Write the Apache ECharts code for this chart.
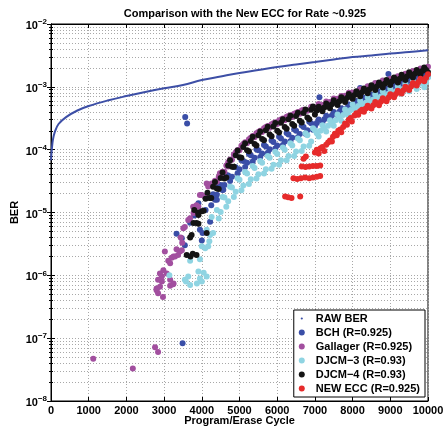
<!DOCTYPE html>
<html>
<head>
<meta charset="utf-8">
<script src="https://cdn.jsdelivr.net/npm/echarts@6/dist/echarts.min.js"></script>
<style>html,body{margin:0;padding:0;background:#fff}#c{width:443px;height:429px}</style>
</head>
<body>
<div id="c"></div>
<script>
// ---------- DATA ----------
const titleText = 'Comparison with the New ECC for Rate ~0.925';
const xName = 'Program/Erase Cycle';
const yName = 'BER';
const seriesNames = ['RAW BER', 'BCH (R=0.925)', 'Gallager (R=0.925)', 'DJCM\u22123 (R=0.93)', 'DJCM\u22124 (R=0.93)', 'NEW ECC (R=0.925)'];

// RAW BER curve
const rawX = [0, 20, 50, 100, 200, 400, 700, 1000, 1500, 2000, 2500, 3000, 3500, 4000, 4500, 5000, 5500, 6000, 6500, 7000, 7500, 8000, 8500, 9000, 9500, 10000];
const rawY = [6.8e-5, 9.9e-5, 1.43e-4, 1.9e-4, 2.56e-4, 3.3e-4, 4.2e-4, 4.95e-4, 6.05e-4, 7.14e-4, 8.3e-4, 9.5e-4, 1.07e-3, 1.28e-3, 1.46e-3, 1.66e-3, 1.85e-3, 2.07e-3, 2.27e-3, 2.48e-3, 2.72e-3, 2.98e-3, 3.15e-3, 3.39e-3, 3.58e-3, 3.81e-3];

// BCH
const bchPoints = [
 [3560,3.3e-4],[3610,2.6e-4],[7120,6.8e-4],[8200,9.6e-4],[8950,1.6e-3],[3490,8.3e-8],
 [3330,4.6e-6],[3470,3.9e-6],[3550,3.0e-6],[3690,6.9e-6],[3910,1.4e-5],[3950,5.3e-6],[4000,3.6e-6],[4020,4.7e-6],[4220,7.1e-6],[4400,1.6e-5],[4570,2.3e-5],[3800,9.0e-6],[4100,1.1e-5],[4250,1.3e-5],
 [4300,1.95e-5],[4400,1.91e-5],[4500,2.75e-5],[4600,2.75e-5],[4700,3.89e-5],[4800,3.72e-5],[4900,5.25e-5],[5000,4.90e-5],
 [5100,6.61e-5],[5200,6.17e-5],[5300,8.13e-5],[5400,7.41e-5],[5500,9.77e-5],[5600,8.71e-5],[5700,1.12e-4],[5800,1.02e-4],
 [5900,1.32e-4],[6000,1.17e-4],[6100,1.51e-4],[6200,1.35e-4],[6300,1.74e-4],[6400,1.55e-4],[6500,2.00e-4],[6600,1.78e-4],
 [6700,2.29e-4],[6800,2.04e-4],[6900,2.63e-4],[7000,2.34e-4],[7100,3.02e-4],[7200,2.69e-4],[7300,3.47e-4],[7400,3.09e-4],
 [7500,3.98e-4],[7600,3.55e-4],[7700,4.57e-4],[7800,4.07e-4],[7900,5.25e-4],[8000,4.68e-4],[8100,5.96e-4],[8200,5.25e-4],
 [8300,6.68e-4],[8400,5.89e-4],[8500,7.50e-4],[8600,6.61e-4],[8700,8.41e-4],[8800,7.41e-4],[8900,9.44e-4],[9000,8.32e-4],
 [9100,1.06e-3],[9200,9.33e-4],[9300,1.19e-3],[9400,1.05e-3],[9500,1.33e-3],[9600,1.17e-3],[9700,1.50e-3],[9800,1.32e-3],
 [9900,1.68e-3],[10000,1.48e-3],
 [4350,1.60e-5],[4450,2.75e-5],[4550,2.29e-5],[4650,3.94e-5],[4750,3.16e-5],[4850,5.31e-5],[4950,4.22e-5],[5050,6.84e-5],
 [5150,5.31e-5],[5250,8.51e-5],[5350,6.46e-5],[5450,1.02e-4],[5550,7.67e-5],[5650,1.19e-4],[5750,8.91e-5],[5850,1.40e-4],
 [5950,1.04e-4],[6050,1.60e-4],[6150,1.19e-4],[6250,1.84e-4],[6350,1.36e-4],[6450,2.11e-4],[6550,1.57e-4],[6650,2.43e-4],
 [6750,1.80e-4],[6850,2.79e-4],[6950,2.07e-4],
 [7050,2.66e-4],[7250,3.05e-4],[7450,3.51e-4],[7650,4.03e-4],[7850,4.62e-4],[8050,5.28e-4],[8250,5.92e-4],[8450,6.65e-4],
 [8650,7.46e-4],[8850,8.37e-4],[9050,9.39e-4],[9250,1.05e-3],[9450,1.18e-3],[9650,1.33e-3],[9850,1.49e-3]
];

// Gallager
const gallagerPoints = [
 [1120,4.7e-8],[2170,3.3e-8],[2760,7.2e-8],[2840,6.0e-8],
 [2800,6.2e-7],[2840,5.2e-7],[2970,4.5e-7],[2800,5.8e-7],[2940,8.0e-7],[3160,6.8e-7],[3240,7.2e-7],[3250,7.4e-7],
 [2840,8.5e-7],[2890,6.6e-7],[2940,9.6e-7],[2980,1.2e-6],[3070,1.07e-6],[3160,8.5e-7],[2890,1.07e-6],[3160,1.55e-6],
 [3110,1.7e-6],[3200,1.9e-6],[3020,2.4e-6],[3250,2.0e-6],[3290,2.0e-6],[3330,2.6e-6],[3370,2.1e-6],[3420,2.4e-6],
 [3470,2.5e-6],[3440,4.0e-6],[3480,3.3e-6],[3510,5.6e-6],[3550,5.9e-6],[3640,7.6e-6],[3690,8.1e-6],[3780,9.8e-6],
 [3770,1.23e-5],[3860,1.3e-5],[3910,1.23e-5],[3950,1.9e-5],[4000,1.9e-5],[4090,1.78e-5],[4130,2.9e-5],[4170,2.6e-5],
 [4260,2.9e-5],[4480,4.2e-5],[4700,5.4e-5],
 [4300,2.88e-5],[4400,3.09e-5],[4500,3.98e-5],[4600,4.47e-5],[4700,6.31e-5],[4800,6.92e-5],[4900,9.12e-5],[5000,9.77e-5],
 [5100,1.23e-4],[5200,1.26e-4],[5300,1.55e-4],[5400,1.58e-4],[5500,1.91e-4],[5600,1.91e-4],[5700,2.29e-4],[5800,2.24e-4],
 [5900,2.63e-4],[6000,2.57e-4],[6100,3.02e-4],[6200,2.95e-4],[6300,3.43e-4],[6400,3.31e-4],[6500,3.85e-4],[6600,3.72e-4],
 [6700,4.32e-4],[6800,4.17e-4],[6900,4.84e-4],[7000,4.68e-4],[7100,5.31e-4],[7200,5.13e-4],[7300,5.82e-4],[7400,5.75e-4],
 [7500,6.53e-4],[7600,6.46e-4],[7700,7.16e-4],[7800,7.24e-4],[7900,8.04e-4],[8000,8.13e-4],[8200,9.12e-4],[8400,1.02e-3],
 [8600,1.15e-3],[8800,1.26e-3],[9000,1.35e-3],[9200,1.48e-3],[9400,1.62e-3],[9600,1.78e-3],[9800,1.95e-3],[10000,2.09e-3],
 [4350,3.20e-5],[4450,3.70e-5],[4550,4.45e-5],[4650,5.60e-5],[4750,6.95e-5],[4850,8.35e-5],[4950,9.90e-5],[5050,1.15e-4],
 [5150,1.31e-4],[5250,1.47e-4],[5350,1.65e-4],[5450,1.82e-4],[5550,2.00e-4],[5650,2.19e-4],[5750,2.37e-4],[5850,2.54e-4],
 [5950,2.73e-4],[6050,2.92e-4],[6150,3.13e-4],[6250,3.33e-4],[6350,3.53e-4],[6450,3.74e-4],[6550,3.96e-4],[6650,4.19e-4]
];

// DJCM-3
const djcm3Points = [
 [3140,1.0e-6],[3550,8.5e-7],[3580,8.0e-7],[3640,9.6e-7],[3690,7.0e-7],[3870,7.4e-7],[3910,1.15e-6],[3950,8.9e-7],
 [4000,8.0e-7],[4130,9.6e-7],[3690,1.7e-6],[3950,1.8e-6],[4000,2.9e-6],[4090,2.7e-6],[4170,2.9e-6],[4130,5.3e-6],
 [4220,4.4e-6],[4300,4.7e-6],[4260,8.5e-6],[4050,1.1e-6],[4200,3.5e-6],
 [4400,1.10e-5],[4500,1.02e-5],[4600,1.74e-5],[4700,1.51e-5],[4800,2.51e-5],[4900,2.14e-5],[5000,3.31e-5],[5100,2.69e-5],
 [5200,4.17e-5],[5300,3.39e-5],[5400,5.13e-5],[5500,4.07e-5],[5600,6.17e-5],[5700,4.90e-5],[5800,7.41e-5],[5900,5.75e-5],
 [6000,8.51e-5],[6100,6.76e-5],[6200,1.00e-4],[6300,7.94e-5],[6400,1.17e-4],[6500,9.33e-5],[6600,1.41e-4],[6700,1.12e-4],
 [6800,1.70e-4],[6900,1.35e-4],[7000,2.04e-4],[7100,1.62e-4],[7200,2.45e-4],[7300,1.95e-4],[7400,2.95e-4],[7500,2.40e-4],
 [7600,3.63e-4],[7700,2.88e-4],[7800,4.37e-4],[7900,3.47e-4],[8000,5.25e-4],[8100,4.07e-4],[8200,6.03e-4],[8300,4.62e-4],
 [8400,6.76e-4],[8500,5.19e-4],[8600,7.59e-4],[8700,5.82e-4],[8800,8.51e-4],[8900,6.46e-4],[9000,9.33e-4],[9100,7.08e-4],
 [9200,1.02e-3],[9300,7.76e-4],[9400,1.12e-3],[9500,8.51e-4],[9600,1.23e-3],[9700,9.23e-4],[9800,1.32e-3],[9900,9.89e-4],
 [10000,1.41e-3],
 [4450,8.04e-6],[4550,1.76e-5],[4650,1.23e-5],[4750,2.57e-5],[4850,1.76e-5],[4950,3.51e-5],[5050,2.26e-5],[5150,4.42e-5],
 [5250,2.85e-5],[5350,5.50e-5],[5450,3.47e-5],[5550,6.61e-5],[5650,4.17e-5],[5750,7.94e-5],[5850,4.95e-5],[5950,9.23e-5],
 [6050,5.75e-5],[6150,1.08e-4],[6250,6.76e-5],[6350,1.27e-4],[6450,7.94e-5],[6550,1.51e-4],[6650,9.55e-5],[6750,1.82e-4],
 [6850,1.15e-4],[6950,2.19e-4],
 [7050,1.82e-4],[7150,2.00e-4],[7250,2.19e-4],[7350,2.40e-4],[7450,2.66e-4],[7550,2.95e-4],[7650,3.24e-4],[7750,3.55e-4],
 [7850,3.89e-4],[7950,4.27e-4],[8050,4.62e-4],[8150,4.95e-4],[8250,5.28e-4],[8350,5.59e-4],[8450,5.92e-4],[8550,6.27e-4],
 [8650,6.65e-4],[8750,7.04e-4],[8850,7.41e-4],[8950,7.76e-4],[9050,8.13e-4],[9150,8.51e-4],[9250,8.91e-4],[9350,9.33e-4],
 [9450,9.77e-4],[9550,1.02e-3],[9650,1.07e-3],[9750,1.10e-3],[9850,1.14e-3],[9950,1.18e-3]
];

// DJCM-4
const djcm4Points = [
 [3600,2.1e-6],[3700,2.0e-6],[3760,2.2e-6],[3860,2.1e-6],[3730,4.4e-6],[3690,4.0e-6],[3780,6.8e-6],[3860,6.8e-6],
 [3910,6.6e-6],[4130,4.7e-6],[3800,1.1e-5],[3910,9.1e-6],
 [3900,1.0e-5],[4000,1.05e-5],[4100,1.66e-5],[4200,1.70e-5],[4300,2.57e-5],[4400,2.40e-5],[4500,3.55e-5],[4600,3.47e-5],
 [4700,5.62e-5],[4800,5.37e-5],[4900,8.13e-5],[5000,7.59e-5],[5100,1.10e-4],[5200,9.77e-5],[5300,1.38e-4],[5400,1.23e-4],
 [5500,1.70e-4],[5600,1.48e-4],[5700,2.04e-4],[5800,1.74e-4],[5900,2.34e-4],[6000,2.00e-4],[6100,2.69e-4],[6200,2.29e-4],
 [6300,3.05e-4],[6400,2.57e-4],[6500,3.43e-4],[6600,2.88e-4],[6700,3.85e-4],[6800,3.24e-4],[6900,4.32e-4],[7000,3.63e-4],
 [7100,4.84e-4],[7200,4.07e-4],[7300,5.43e-4],[7400,4.57e-4],[7500,6.10e-4],[7600,5.13e-4],[7700,6.84e-4],[7800,5.75e-4],
 [7900,7.67e-4],[8000,6.46e-4],[8100,8.51e-4],[8200,7.08e-4],[8300,9.44e-4],[8400,7.94e-4],[8500,1.06e-3],[8600,8.91e-4],
 [8700,1.17e-3],[8800,9.77e-4],[8900,1.29e-3],[9000,1.07e-3],[9100,1.41e-3],[9200,1.17e-3],[9300,1.55e-3],[9400,1.29e-3],
 [9500,1.70e-3],[9600,1.41e-3],[9700,1.86e-3],[9800,1.55e-3],[9900,2.04e-3],[10000,1.70e-3],
 [4050,1.07e-5],[4150,2.07e-5],[4250,1.70e-5],[4350,3.05e-5],[4450,2.37e-5],[4550,4.32e-5],[4650,3.59e-5],[4750,6.76e-5],
 [4850,5.37e-5],[4950,9.66e-5],[5050,7.41e-5],[5150,1.27e-4],[5250,9.44e-5],[5350,1.60e-4],[5450,1.17e-4],[5550,1.95e-4],
 [5650,1.41e-4],[5750,2.32e-4],[5850,1.64e-4],[5950,2.66e-4],[6050,1.88e-4],[6150,3.05e-4],[6250,2.15e-4],[6350,3.45e-4],
 [6450,2.41e-4],[6550,3.87e-4],[6650,2.71e-4],[6750,4.34e-4],[6850,3.04e-4],[6950,4.87e-4],
 [7050,4.19e-4],[7150,4.44e-4],[7250,4.70e-4],[7350,4.98e-4],[7450,5.28e-4],[7550,5.59e-4],[7650,5.92e-4],[7750,6.27e-4],
 [7850,6.65e-4],[7950,7.04e-4],[8050,7.41e-4],[8150,7.76e-4],[8250,8.18e-4],[8350,8.66e-4],[8450,9.17e-4],[8550,9.72e-4],
 [8650,1.02e-3],[8750,1.07e-3],[8850,1.12e-3],[8950,1.17e-3],[9050,1.23e-3],[9150,1.29e-3],[9250,1.35e-3],[9350,1.41e-3],
 [9450,1.48e-3],[9550,1.55e-3],[9650,1.62e-3],[9750,1.70e-3],[9850,1.78e-3],[9950,1.86e-3]
];

// NEW ECC
const newEccPoints = [
 [6210,1.8e-5],[6290,1.75e-5],[6380,1.7e-5],[6610,1.8e-5],
 [6430,3.5e-5],[6530,3.4e-5],[6630,3.5e-5],[6740,3.6e-5],[6850,3.5e-5],[6950,3.6e-5],[7050,3.7e-5],[7140,3.8e-5],
 [6650,5.4e-5],[6750,5.3e-5],[6850,5.4e-5],[6950,5.5e-5],[7050,5.5e-5],[7140,5.6e-5],
 [6700,7.2e-5],[6760,7.8e-5],
 [7000,9.0e-5],[7050,1.0e-4],[7100,8.7e-5],[7150,1.05e-4],[7200,1.1e-4],[7250,9.5e-5],[7300,1.2e-4],[7350,1.3e-4],[7400,1.4e-4],[7450,1.35e-4],
 [7480,1.6e-4],[7530,1.8e-4],[7580,1.7e-4],[7620,2.0e-4],[7670,2.1e-4],[7700,1.9e-4],
 [7750,2.3e-4],[7800,2.6e-4],[7850,2.5e-4],[7900,3.0e-4],[7950,3.2e-4],[7980,2.8e-4],
 [8050,3.5e-4],[8100,3.8e-4],[8150,3.6e-4],[8200,4.1e-4],[8250,4.3e-4],[8300,4.0e-4],
 [8350,4.5e-4],[8400,5.0e-4],[8450,4.7e-4],[8500,4.5e-4],[8550,5.1e-4],[8600,5.75e-4],[8650,5.4e-4],[8700,5.1e-4],
 [8750,5.8e-4],[8800,6.6e-4],[8850,6.2e-4],[8900,5.9e-4],[8950,6.7e-4],[9000,7.6e-4],[9050,7.2e-4],[9100,6.8e-4],
 [9150,7.7e-4],[9200,8.7e-4],[9250,8.2e-4],[9300,7.8e-4],[9350,8.8e-4],[9400,1.0e-3],[9450,9.4e-4],[9500,8.9e-4],
 [9550,1.01e-3],[9600,1.15e-3],[9650,1.10e-3],[9700,1.05e-3],[9750,1.19e-3],[9800,1.35e-3],[9850,1.29e-3],[9900,1.23e-3],
 [9950,1.40e-3],[10000,1.58e-3]
];

// ---------- CHART ----------
const FONT = '"Liberation Sans", Arial, Helvetica, sans-serif';
const colors = ['#3d4fa6', '#3a4ea7', '#a24f9f', '#8fd4e2', '#141414', '#e62b2b'];
const chart = echarts.init(document.getElementById('c'), null, {renderer: 'canvas'});

const dotted = {color: '#a8a8a8', width: 1, type: [1, 2]};
const yLabelRich = {
  a: {fontSize: 11, fontWeight: 'bold', fontFamily: FONT, color: '#000', lineHeight: 16, padding: [4, 0, 0, 0]},
  b: {fontSize: 8, fontWeight: 'bold', fontFamily: FONT, color: '#000', lineHeight: 10, verticalAlign: 'top', padding: [2, 0, 0, 0]}
};
function yFmt(v) {
  const e = Math.round(Math.log10(v));
  return '{a|10}{b|' + (e < 0 ? '\u2212' + (-e) : e) + '}';
}

const scatterSeries = [
  [seriesNames[1], bchPoints, colors[1]],
  [seriesNames[2], gallagerPoints, colors[2]],
  [seriesNames[3], djcm3Points, colors[3]],
  [seriesNames[4], djcm4Points, colors[4]],
  [seriesNames[5], newEccPoints, colors[5]]
].map(([name, data, color]) => ({
  name, type: 'scatter', data, symbol: 'circle', symbolSize: 6,
  itemStyle: {color, opacity: 1}, xAxisIndex: 0, yAxisIndex: 0
}));

const option = {
  animation: false,
  backgroundColor: '#fff',
  title: {
    text: titleText, left: 240, top: 3, textAlign: 'center',
    textStyle: {fontSize: 11, fontWeight: 'bold', fontFamily: FONT, color: '#000'}
  },
  grid: {left: 51, right: 15, top: 24, bottom: 28, containLabel: false, outerBoundsMode: 'none',
         show: true, borderColor: '#000', borderWidth: 1, backgroundColor: 'transparent'},
  legend: {
    orient: 'vertical', right: 18, bottom: 32,
    backgroundColor: '#fff', borderColor: '#000', borderWidth: 1,
    padding: [3, 5, 3, 5], itemGap: 3, itemWidth: 18, itemHeight: 6,
    selectedMode: false,
    textStyle: {fontSize: 11, fontWeight: 'bold', fontFamily: FONT, color: '#000'},
    data: [
      {name: seriesNames[0], icon: 'path://M0,0M10,10M3.2,5a1.8,1.8,0,1,0,3.6,0a1.8,1.8,0,1,0,-3.6,0z'},
      {name: seriesNames[1], icon: 'circle'},
      {name: seriesNames[2], icon: 'circle'},
      {name: seriesNames[3], icon: 'circle'},
      {name: seriesNames[4], icon: 'circle'},
      {name: seriesNames[5], icon: 'circle'}
    ]
  },
  xAxis: [{
    type: 'value', min: 0, max: 10000, interval: 1000,
    name: xName, nameLocation: 'middle', nameGap: 14, nameMoveOverlap: false,
    nameTextStyle: {fontSize: 11, fontWeight: 'bold', fontFamily: FONT, color: '#000'},
    axisLine: {show: true, lineStyle: {color: '#000', width: 1}},
    axisTick: {show: true, inside: true, length: 4, lineStyle: {color: '#000'}},
    axisLabel: {fontSize: 11, fontWeight: 'bold', fontFamily: FONT, color: '#000', margin: 4,
                showMaxLabel: true, showMinLabel: true, hideOverlap: false, formatter: v => String(v)},
    splitLine: {show: true, lineStyle: dotted}
  }, {
    type: 'value', min: 0, max: 10000, interval: 1000, position: 'top',
    axisLine: {show: true, lineStyle: {color: '#000', width: 1}},
    axisTick: {show: true, inside: true, length: 4, lineStyle: {color: '#000'}},
    axisLabel: {show: false}, splitLine: {show: false}
  }],
  yAxis: [{
    type: 'log', logBase: 10, min: 1e-8, max: 1e-2, interval: 1,
    name: yName, nameLocation: 'middle', nameGap: 31, nameRotate: 90, nameMoveOverlap: false,
    nameTextStyle: {fontSize: 11, fontWeight: 'bold', fontFamily: FONT, color: '#000'},
    axisLine: {show: true, lineStyle: {color: '#000', width: 1}},
    axisTick: {show: true, inside: true, length: 4, lineStyle: {color: '#000'}},
    minorTick: {show: true, splitNumber: 9, length: 2, lineStyle: {color: '#000'}},
    axisLabel: {formatter: yFmt, rich: yLabelRich, margin: 4},
    splitLine: {show: true, lineStyle: dotted},
    minorSplitLine: {show: true, lineStyle: dotted}
  }, {
    type: 'log', logBase: 10, min: 1e-8, max: 1e-2, interval: 1, position: 'right',
    axisLine: {show: true, lineStyle: {color: '#000', width: 1}},
    axisTick: {show: true, inside: true, length: 4, lineStyle: {color: '#000'}},
    minorTick: {show: true, splitNumber: 9, length: 2, lineStyle: {color: '#000'}},
    axisLabel: {show: false}, splitLine: {show: false}
  }],
  series: [{
    name: seriesNames[0], type: 'line', smooth: 0.4,
    data: rawX.map((x, i) => [x, rawY[i]]),
    showSymbol: false, symbol: 'none',
    lineStyle: {color: colors[0], width: 2},
    itemStyle: {color: colors[0]},
    xAxisIndex: 0, yAxisIndex: 0, z: 2
  }].concat(scatterSeries)
};
chart.setOption(option);
</script>
</body>
</html>
